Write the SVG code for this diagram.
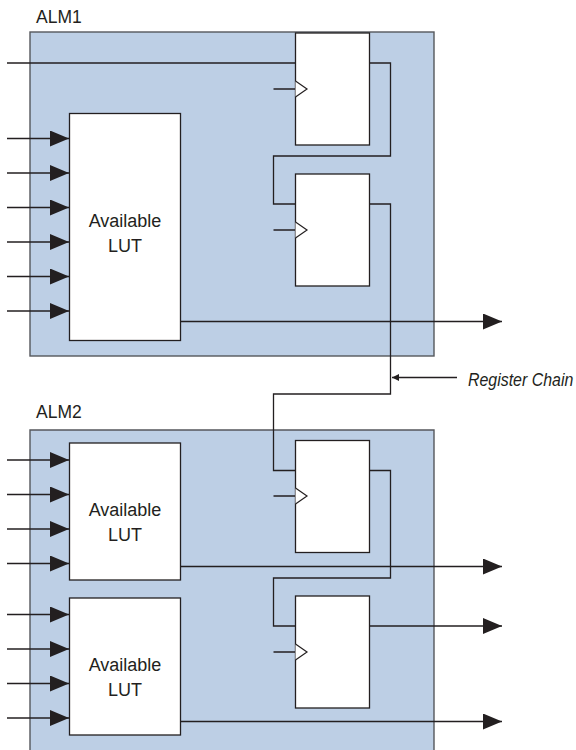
<svg xmlns="http://www.w3.org/2000/svg" width="576" height="750" viewBox="0 0 576 750">
<style>
.alm{fill:#bdcfe5;stroke:#55575c;stroke-width:1.4}
.blk{fill:#fff;stroke:#231f20;stroke-width:1.3}
.w{fill:none;stroke:#231f20;stroke-width:1.3}
.clk{fill:#fff;stroke:#231f20;stroke-width:1.2}
text{font-family:"Liberation Sans",Arial,sans-serif;fill:#231f20;font-size:17.500px}
.c{text-anchor:middle;font-size:18px}
</style>
<defs>
<marker id="big" markerUnits="userSpaceOnUse" markerWidth="20" markerHeight="18" refX="19" refY="8" orient="auto"><path d="M0 0L19 8L0 16Z" fill="#231f20"/></marker>
<marker id="small" markerUnits="userSpaceOnUse" markerWidth="8" markerHeight="8" refX="7" refY="3.5" orient="auto"><path d="M0 0L7 3.5L0 7Z" fill="#231f20"/></marker>
</defs>
<rect x="0" y="0" width="576" height="750" fill="#fff"/>
<g id="alm1"><rect class="alm" x="30" y="32" width="404" height="324"/><text x="36" y="23">ALM1</text></g>
<g id="alm2"><path class="alm" d="M30 751V430H434V751"/><text x="36" y="418">ALM2</text></g>
<g id="connectors">
<path class="w" d="M7 63H390.500V156H273.500V204H295"/>
<path class="w" d="M369 204H390.500V394H273.500V470.500H295"/>
<path class="w" d="M369 470.500H390.500V578H273.500V626H295"/>
<path class="w" d="M273.500 89H295M273.500 230H295M273.500 496H295M273.500 652H295"/>
<g marker-end="url(#big)" class="w">
<path d="M7 138.500H69"/><path d="M7 173H69"/><path d="M7 207.500H69"/><path d="M7 242H69"/><path d="M7 276.500H69"/><path d="M7 311H69"/>
<path d="M7 460H69"/><path d="M7 494.500H69"/><path d="M7 529H69"/><path d="M7 563.500H69"/>
<path d="M7 614.500H69"/><path d="M7 649H69"/><path d="M7 683.500H69"/><path d="M7 718H69"/>
<path d="M180 321.500H502"/><path d="M180 566.500H502"/><path d="M369 626H502"/><path d="M180 721.500H502"/>
</g>
<path class="w" d="M457 377.500H392" marker-end="url(#small)"/>
</g>
<g id="lut1"><rect class="blk" x="69.500" y="113.500" width="111" height="227"/><text class="c" x="125" y="227">Available</text><text class="c" x="125" y="252">LUT</text></g>
<g id="lut2"><rect class="blk" x="69.500" y="443" width="111" height="137"/><text class="c" x="125" y="516">Available</text><text class="c" x="125" y="541">LUT</text></g>
<g id="lut3"><rect class="blk" x="69.500" y="598" width="111" height="137"/><text class="c" x="125" y="671">Available</text><text class="c" x="125" y="696">LUT</text></g>
<g id="reg1"><rect class="blk" x="295.500" y="33" width="74" height="112"/><path class="clk" d="M295.500 81L307 89L295.500 97"/></g>
<g id="reg2"><rect class="blk" x="295.500" y="174" width="74" height="112"/><path class="clk" d="M295.500 222L307 230L295.500 238"/></g>
<g id="reg3"><rect class="blk" x="295.500" y="440.500" width="74" height="112"/><path class="clk" d="M295.500 488L307 496L295.500 504"/></g>
<g id="reg4"><rect class="blk" x="295.500" y="596" width="74" height="112"/><path class="clk" d="M295.500 644L307 652L295.500 660"/></g>
<g id="label"><text transform="translate(468 386) scale(.885 1)" font-style="italic" style="font-size:18px">Register Chain</text></g>
</svg>
